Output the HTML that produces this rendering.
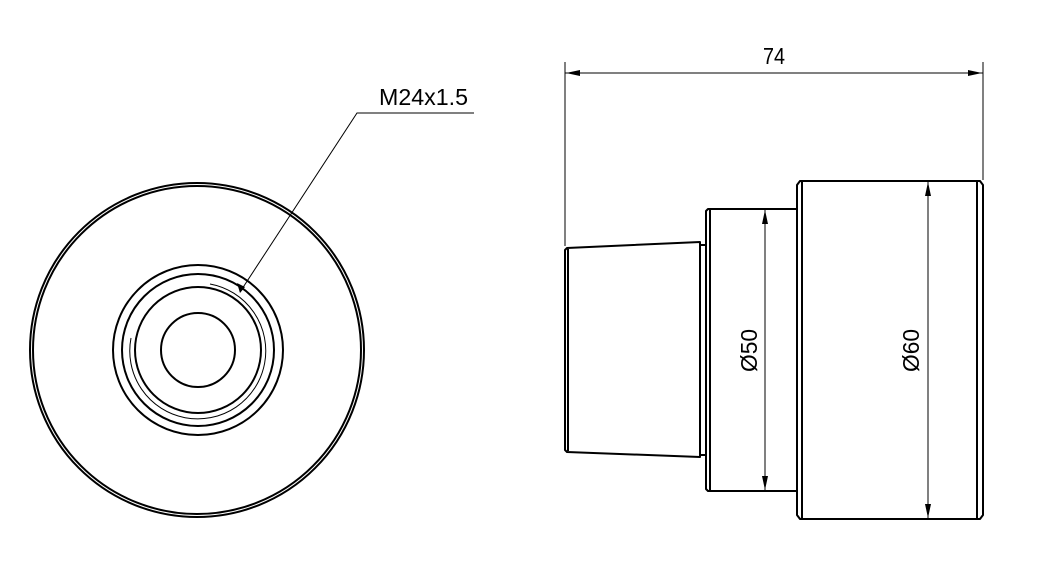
<!DOCTYPE html>
<html><head><style>html,body{margin:0;padding:0;background:#fff}svg{display:block}</style></head>
<body>
<svg width="1050" height="584" viewBox="0 0 1050 584" xmlns="http://www.w3.org/2000/svg">
<g fill="none" stroke="#000" stroke-width="2">
<circle cx="197" cy="350" r="167"/>
<circle cx="197" cy="350" r="164"/>
<circle cx="198" cy="350" r="85"/>
<circle cx="198" cy="350" r="76"/>
<circle cx="198" cy="350" r="63"/>
<circle cx="198" cy="350" r="37"/>
</g>
<g fill="none" stroke="#000" stroke-width="1">
<path d="M 210 284 A 68 68 0 1 1 131 338"/>
<polyline points="240,292 357,113 474,113"/>
</g>
<polygon points="240,293 237,283 245,287" fill="#000"/>
<text x="379" y="105" font-family="Liberation Sans Narrow, Liberation Sans, sans-serif" font-size="23" textLength="89" lengthAdjust="spacingAndGlyphs">M24x1.5</text>

<g fill="none" stroke="#000" stroke-width="2" stroke-linejoin="round">
<polygon points="567,248 700,242 700,457 567,452 565,450 565,250"/>
<line x1="568" y1="249" x2="568" y2="451"/>
<rect x="700" y="245" width="6" height="210"/>
<polygon points="708,209 797,209 797,491 708,491 706,489 706,211"/>
<line x1="710" y1="210" x2="710" y2="490"/>
<polygon points="800,181 980,181 983,185 983,515 980,519 800,519 797,515 797,185"/>
<line x1="802" y1="182" x2="802" y2="518"/>
<line x1="977" y1="182" x2="977" y2="518"/>
</g>
<g stroke="#000" stroke-width="1">
<line x1="565" y1="62" x2="565" y2="246"/>
<line x1="983" y1="62" x2="983" y2="180"/>
<line x1="565" y1="73" x2="983" y2="73"/>
<line x1="765" y1="209" x2="765" y2="491"/>
<line x1="928" y1="181" x2="928" y2="519"/>
</g>
<g fill="#000">
<polygon points="566,73 580,70 580,76"/>
<polygon points="982,73 968,70 968,76"/>
<polygon points="765,210 762,224 768,224"/>
<polygon points="765,490 762,476 768,476"/>
<polygon points="928,182 925,196 931,196"/>
<polygon points="928,518 925,504 931,504"/>
</g>
<text x="763" y="64" font-family="Liberation Sans Narrow, Liberation Sans, sans-serif" font-size="23" textLength="22" lengthAdjust="spacingAndGlyphs">74</text>
<text transform="translate(757,372) rotate(-90)" font-family="Liberation Sans Narrow, Liberation Sans, sans-serif" font-size="23" textLength="43" lengthAdjust="spacingAndGlyphs">Ø50</text>
<text transform="translate(919,372) rotate(-90)" font-family="Liberation Sans Narrow, Liberation Sans, sans-serif" font-size="23" textLength="43" lengthAdjust="spacingAndGlyphs">Ø60</text>
</svg>
</body></html>
